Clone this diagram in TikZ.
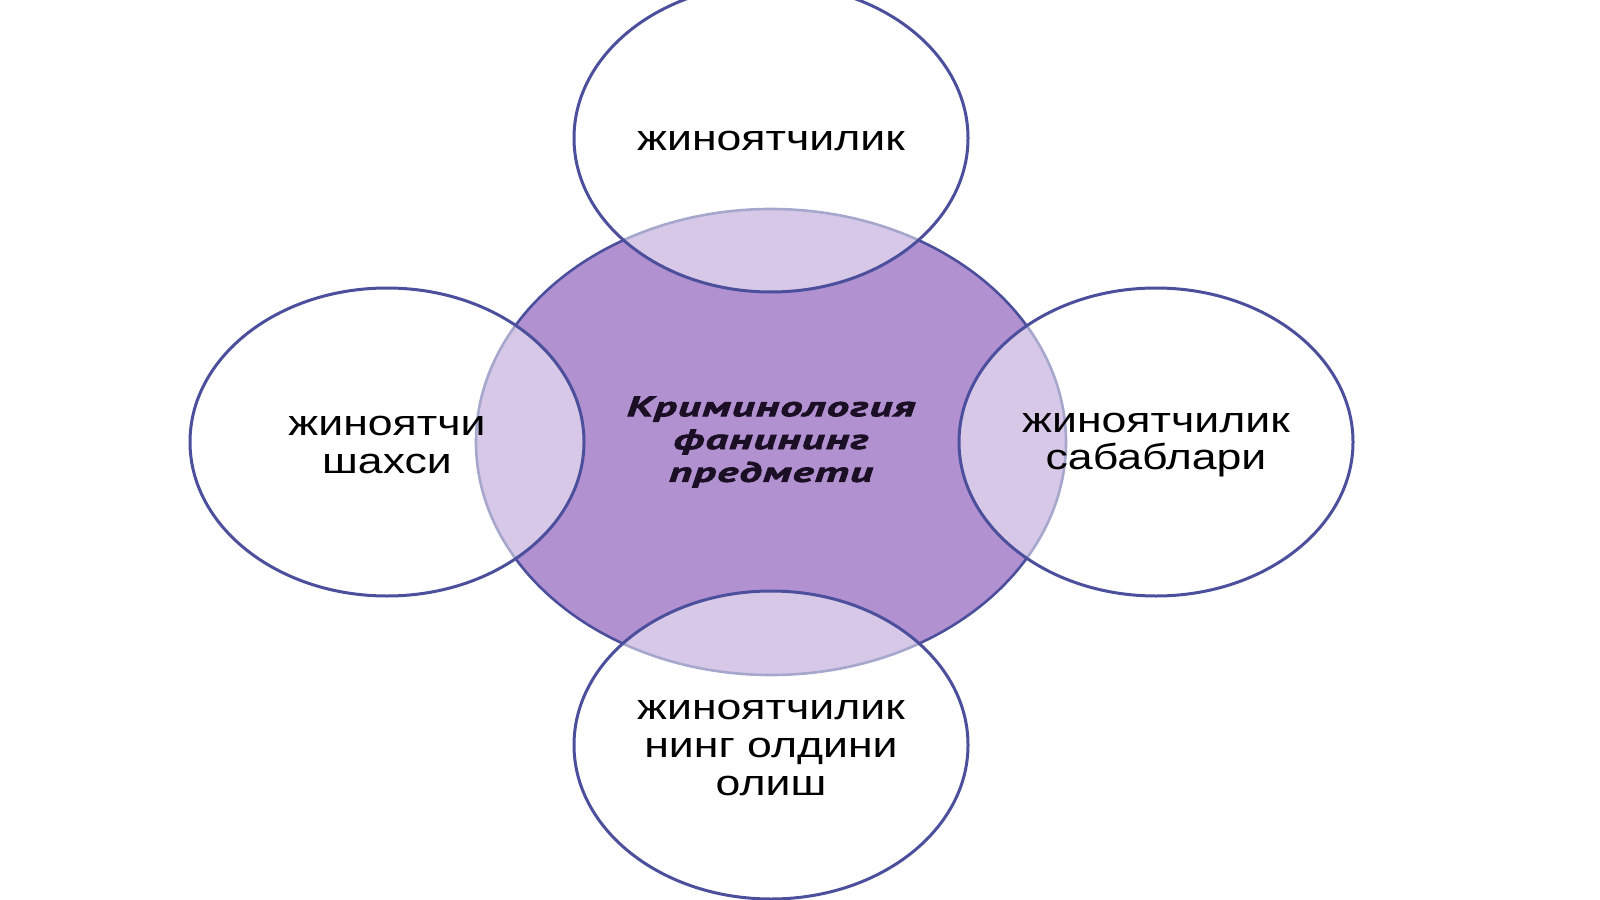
\documentclass[tikz,border=0pt]{standalone}
\usepackage{fontspec}
\setmainfont{Liberation Sans}[FakeStretch=1.24]
\newfontfamily\centerfont{PT Sans}[FakeStretch=1.6,LetterSpace=4,BoldItalicFeatures={FakeBold=2.6}]
\usetikzlibrary{shapes.geometric}
\definecolor{edgeblue}{HTML}{4B4F9C}
\definecolor{mauve}{HTML}{B291D0}
\definecolor{centertext}{HTML}{1A0F24}
\tikzset{
  outerell/.style={ellipse, draw=edgeblue, line width=1.5pt, fill=white,
    fill opacity=0.5, draw opacity=1, inner sep=0pt,
    minimum width=197pt, minimum height=154pt},
  outertext/.style={inner sep=0pt, align=center, text=black,
    font=\fontsize{18}{18.8}\selectfont},
  centerell/.style={ellipse, draw=edgeblue, line width=1.3pt, fill=mauve,
    inner sep=0pt, minimum width=295pt, minimum height=233pt, align=center,
    text=centertext, font=\centerfont\bfseries\itshape\fontsize{14}{16.4}\selectfont}
}
\begin{document}
\begin{tikzpicture}[x=0.5pt,y=-0.5pt]
\useasboundingbox[fill=white] (0,0) rectangle (1600,899);
\node[centerell] (subj) at (771,442) {Криминология\\фанининг\\предмети};
\node[outerell] (crime) at (771,138) {};
\node[outerell] (person) at (387,442) {};
\node[outerell] (causes) at (1156,442) {};
\node[outerell] (prevent) at (771,745) {};
\node[outertext] (crimet) at ([yshift=-1.5pt]crime.center) {жиноятчилик};
\node[outertext] (persont) at ([yshift=-1.5pt]person.center) {жиноятчи\\шахси};
\node[outertext] (causest) at ([yshift=-1.5pt]causes.center) {жиноятчилик\\сабаблари};
\node[outertext] (preventt) at ([yshift=-1.5pt]prevent.center) {жиноятчилик\\нинг олдини\\олиш};
\end{tikzpicture}
\end{document}
